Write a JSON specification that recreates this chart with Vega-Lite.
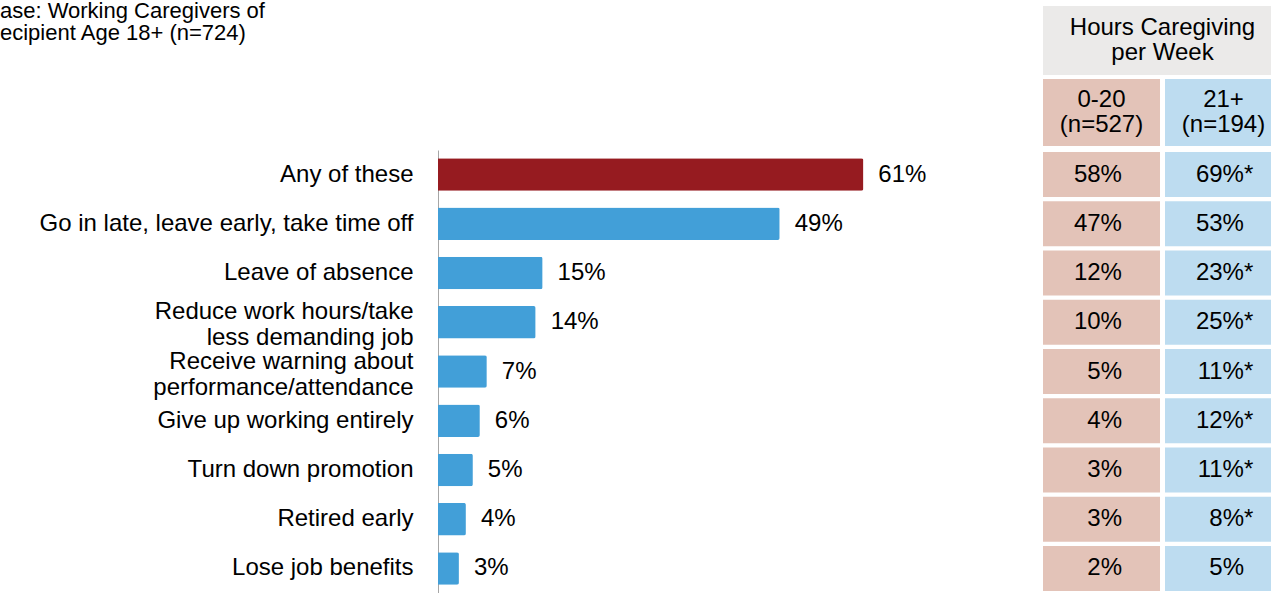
{
  "$schema": "https://vega.github.io/schema/vega-lite/v6.json",
  "padding": 0,
  "autosize": {"type": "pad"},
  "background": "#ffffff",
  "config": {
    "view": {"stroke": null},
    "font": "Liberation Sans",
    "text": {"font": "Liberation Sans", "fontSize": 24, "color": "#000000"}
  },
  "title": {
    "text": ["ase: Working Caregivers of", "ecipient Age 18+ (n=724)"],
    "anchor": "start",
    "frame": "group",
    "dx": -438,
    "offset": -39,
    "fontSize": 22,
    "fontWeight": "normal",
    "font": "Liberation Sans",
    "color": "#000000",
    "lineHeight": 22
  },
  "datasets": {
    "bars": [
      {"category": "Any of these", "pct": 0.61},
      {"category": "Go in late, leave early, take time off", "pct": 0.49},
      {"category": "Leave of absence", "pct": 0.15},
      {"category": "Reduce work hours/take\nless demanding job", "pct": 0.14},
      {"category": "Receive warning about\nperformance/attendance", "pct": 0.07},
      {"category": "Give up working entirely", "pct": 0.06},
      {"category": "Turn down promotion", "pct": 0.05},
      {"category": "Retired early", "pct": 0.04},
      {"category": "Lose job benefits", "pct": 0.03}
    ],
    "table": [
      {"category": "Any of these", "group": "0-20", "pct": 0.58, "sig": false},
      {"category": "Any of these", "group": "21+", "pct": 0.69, "sig": true},
      {"category": "Go in late, leave early, take time off", "group": "0-20", "pct": 0.47, "sig": false},
      {"category": "Go in late, leave early, take time off", "group": "21+", "pct": 0.53, "sig": false},
      {"category": "Leave of absence", "group": "0-20", "pct": 0.12, "sig": false},
      {"category": "Leave of absence", "group": "21+", "pct": 0.23, "sig": true},
      {"category": "Reduce work hours/take\nless demanding job", "group": "0-20", "pct": 0.10, "sig": false},
      {"category": "Reduce work hours/take\nless demanding job", "group": "21+", "pct": 0.25, "sig": true},
      {"category": "Receive warning about\nperformance/attendance", "group": "0-20", "pct": 0.05, "sig": false},
      {"category": "Receive warning about\nperformance/attendance", "group": "21+", "pct": 0.11, "sig": true},
      {"category": "Give up working entirely", "group": "0-20", "pct": 0.04, "sig": false},
      {"category": "Give up working entirely", "group": "21+", "pct": 0.12, "sig": true},
      {"category": "Turn down promotion", "group": "0-20", "pct": 0.03, "sig": false},
      {"category": "Turn down promotion", "group": "21+", "pct": 0.11, "sig": true},
      {"category": "Retired early", "group": "0-20", "pct": 0.03, "sig": false},
      {"category": "Retired early", "group": "21+", "pct": 0.08, "sig": true},
      {"category": "Lose job benefits", "group": "0-20", "pct": 0.02, "sig": false},
      {"category": "Lose job benefits", "group": "21+", "pct": 0.05, "sig": false}
    ],
    "groups": [
      {"group": "0-20", "label": "0-20\n(n=527)"},
      {"group": "21+", "label": "21+\n(n=194)"}
    ],
    "header": [
      {"label": "Hours Caregiving\nper Week"}
    ]
  },
  "spacing": 82,
  "hconcat": [
    {
      "spacing": 4,
      "vconcat": [
        {
          "width": 10,
          "height": 140,
          "data": {"name": "header"},
          "mark": {"type": "text", "opacity": 0},
          "encoding": {"text": {"value": ""}}
        },
        {
          "width": 523,
          "height": 443,
          "data": {"name": "bars"},
          "encoding": {
            "y": {
              "field": "category",
              "type": "nominal",
              "sort": null,
              "scale": {"paddingInner": 0.34, "paddingOuter": 0.17},
              "axis": {
                "title": null,
                "ticks": false,
                "labelPadding": 25,
                "labelFontSize": 24,
                "labelFont": "Liberation Sans",
                "labelColor": "#000000",
                "labelLimit": 0,
                "labelLineHeight": 26,
                "labelExpr": "split(datum.label, '\\n')",
                "labelBaseline": {
                  "condition": {"test": "indexof(datum.value, '\\n') >= 0", "value": "line-bottom"},
                  "value": "middle"
                },
                "labelOffset": {
                  "condition": {"test": "indexof(datum.value, '\\n') >= 0", "value": 3},
                  "value": 0
                },
                "domainColor": "#A6A6A6",
                "domainWidth": 1
              }
            },
            "x": {
              "field": "pct",
              "type": "quantitative",
              "scale": {"domain": [0, 0.75]},
              "axis": null
            }
          },
          "layer": [
            {
              "mark": {"type": "bar", "cornerRadiusEnd": 2},
              "encoding": {
                "color": {
                  "condition": {"test": "datum.category === 'Any of these'", "value": "#961B20"},
                  "value": "#429FD8"
                }
              }
            },
            {
              "mark": {"type": "text", "align": "left", "baseline": "middle", "dx": 15, "fontSize": 24},
              "encoding": {
                "text": {"field": "pct", "type": "quantitative", "format": ".0%"}
              }
            }
          ]
        }
      ]
    },
    {
      "spacing": 4,
      "vconcat": [
        {
          "width": 239,
          "height": 69,
          "data": {"name": "header"},
          "layer": [
            {
              "mark": {"type": "rect", "color": "#EBEAE9"},
              "encoding": {
                "x": {"value": 0},
                "x2": {"value": "width"},
                "y": {"value": 0},
                "y2": {"value": "height"}
              }
            },
            {
              "mark": {"type": "text", "lineBreak": "\n", "lineHeight": 25, "fontSize": 24, "align": "center", "baseline": "line-bottom"},
              "encoding": {"text": {"field": "label"}}
            }
          ]
        },
        {
          "width": 239,
          "height": 67,
          "data": {"name": "groups"},
          "encoding": {
            "x": {
              "field": "group",
              "type": "nominal",
              "sort": null,
              "scale": {"paddingInner": 0.041, "paddingOuter": 0},
              "axis": null
            }
          },
          "layer": [
            {
              "mark": {"type": "rect"},
              "encoding": {
                "y": {"value": 0},
                "y2": {"value": "height"},
                "color": {
                  "field": "group",
                  "type": "nominal",
                  "scale": {"domain": ["0-20", "21+"], "range": ["#E3C3B8", "#BDDCF0"]},
                  "legend": null
                }
              }
            },
            {
              "mark": {"type": "text", "lineBreak": "\n", "lineHeight": 25, "fontSize": 24, "align": "center", "baseline": "line-bottom"},
              "encoding": {"text": {"field": "label"}}
            }
          ]
        },
        {
          "width": 239,
          "height": 443,
          "data": {"name": "table"},
          "encoding": {
            "y": {
              "field": "category",
              "type": "nominal",
              "sort": null,
              "scale": {"paddingInner": 0.086, "paddingOuter": 0.043},
              "axis": null
            }
          },
          "layer": [
            {
              "mark": {"type": "rect"},
              "encoding": {
                "x": {
                  "field": "group",
                  "type": "nominal",
                  "sort": null,
                  "scale": {"paddingInner": 0.041, "paddingOuter": 0},
                  "axis": null
                },
                "color": {
                  "field": "group",
                  "type": "nominal",
                  "scale": {"domain": ["0-20", "21+"], "range": ["#E3C3B8", "#BDDCF0"]},
                  "legend": null
                }
              }
            },
            {
              "mark": {"type": "text", "align": "right", "baseline": "middle", "fontSize": 24},
              "encoding": {
                "x": {"field": "group", "type": "nominal", "sort": null, "bandPosition": 0.675},
                "text": {"field": "pct", "type": "quantitative", "format": ".0%"}
              }
            },
            {
              "transform": [{"filter": "datum.sig"}],
              "mark": {"type": "text", "align": "left", "baseline": "middle", "fontSize": 24},
              "encoding": {
                "x": {"field": "group", "type": "nominal", "sort": null, "bandPosition": 0.675},
                "text": {"value": "*"}
              }
            }
          ]
        }
      ]
    }
  ]
}
